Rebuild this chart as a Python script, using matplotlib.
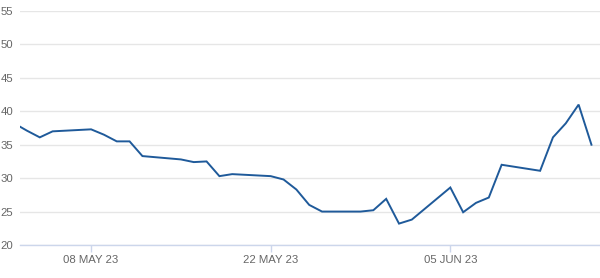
import matplotlib
matplotlib.use("Agg")
import matplotlib.pyplot as plt
import matplotlib.dates as mdates
import pandas as pd

# ── data ─────────────────────────────────────────────────────────────────────
dates = [
    "2023-05-02", "2023-05-03", "2023-05-04", "2023-05-05", "2023-05-08",
    "2023-05-09", "2023-05-10", "2023-05-11", "2023-05-12", "2023-05-15",
    "2023-05-16", "2023-05-17", "2023-05-18", "2023-05-19", "2023-05-22",
    "2023-05-23", "2023-05-24", "2023-05-25", "2023-05-26", "2023-05-29",
    "2023-05-30", "2023-05-31", "2023-06-01", "2023-06-02", "2023-06-05",
    "2023-06-06", "2023-06-07", "2023-06-08", "2023-06-09", "2023-06-12",
    "2023-06-13", "2023-06-14", "2023-06-15", "2023-06-16",
]
values = [
    38.2, 37.1, 36.1, 37.0, 37.3,
    36.5, 35.5, 35.5, 33.3, 32.8,
    32.4, 32.5, 30.3, 30.6, 30.3,
    29.8, 28.3, 26.0, 25.0, 25.0,
    25.2, 26.9, 23.2, 23.8, 28.6,
    24.9, 26.3, 27.1, 32.0, 31.1,
    36.1, 38.2, 41.0, 35.0,
]
x_ticks = ["2023-05-08", "2023-05-22", "2023-06-05"]
y_ticks = [20, 25, 30, 35, 40, 45, 50, 55]

x = pd.to_datetime(dates)

plt.rcParams["font.family"] = ["Liberation Sans", "DejaVu Sans"]

fig = plt.figure(figsize=(6.0, 2.78), dpi=100)
ax = fig.add_axes([20 / 600, 33 / 278, 580 / 600, 234 / 278])

ax.plot(x, values, color="#1f5a9a", lw=1.4, solid_joinstyle="miter", zorder=3)

ax.set_ylim(20, 55)
ax.set_xlim(pd.Timestamp("2023-05-02 11:00"), pd.Timestamp("2023-06-16 16:00"))

ax.set_yticks(y_ticks)
ax.set_xticks(pd.to_datetime(x_ticks))
ax.xaxis.set_major_formatter(mdates.DateFormatter("%d %b %y"))
ax.set_xticklabels([pd.Timestamp(d).strftime("%d %b %y").upper() for d in x_ticks])

ax.grid(axis="y", color="#e6e6e6", lw=1)
ax.grid(axis="x", visible=False)
for s in ["top", "right", "left"]:
    ax.spines[s].set_visible(False)
ax.spines["bottom"].set_color("#ccd6eb")
ax.spines["bottom"].set_linewidth(1)

ax.tick_params(axis="y", length=0, pad=5, labelsize=8.2, labelcolor="#666666")
ax.tick_params(axis="x", length=5, width=1, color="#ccd6eb", pad=2,
               labelsize=8.2, labelcolor="#666666")
ax.set_facecolor("white")

fig.savefig("out.png", dpi=100, facecolor="white")
